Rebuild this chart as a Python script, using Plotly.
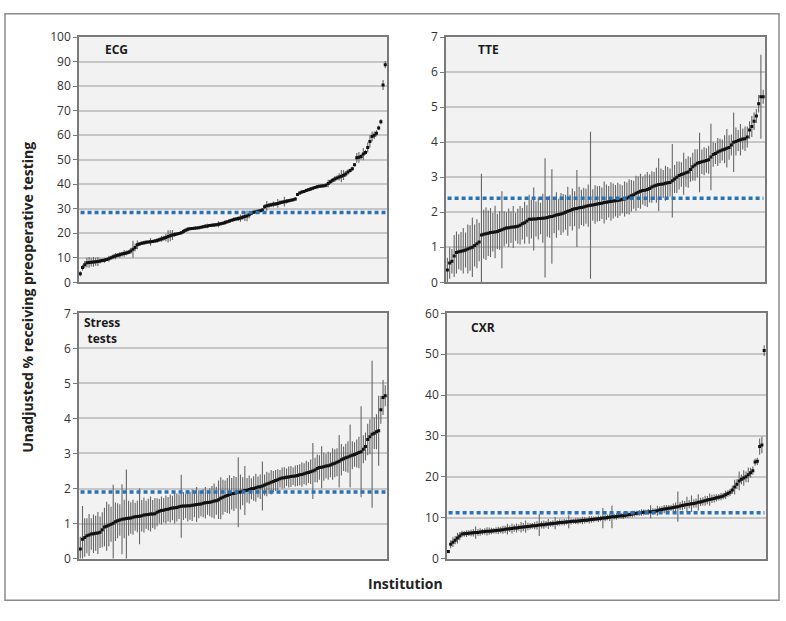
import plotly.graph_objects as go

W, H = 786, 621

# ---------------- data ----------------
ecg_vals = [3.5, 6.0, 7.2, 8.0, 8.1, 8.2, 8.3, 8.4, 8.5, 8.7,
            8.9, 9.0, 9.3, 9.6, 10.0, 10.4, 10.7, 11.0, 11.2, 11.5,
            11.8, 12.0, 12.3, 12.8, 13.5, 14.2, 15.3, 15.6, 15.9, 16.1,
            16.3, 16.4, 16.5, 16.7, 16.9, 17.1, 17.4, 17.7, 18.0, 18.3,
            18.7, 19.0, 19.3, 19.5, 19.7, 19.9, 20.2, 20.7, 21.2, 21.6,
            21.9, 22.0, 22.1, 22.2, 22.3, 22.5, 22.7, 22.9, 23.0, 23.2,
            23.3, 23.4, 23.5, 23.7, 23.9, 24.1, 24.4, 24.7, 25.0, 25.3,
            25.6, 25.8, 26.0, 26.2, 26.5, 26.8, 27.1, 27.6, 28.2, 28.6,
            28.8, 29.0, 29.2, 29.5, 30.8, 31.2, 31.4, 31.6, 31.8, 32.0,
            32.2, 32.5, 32.7, 32.9, 33.1, 33.3, 33.5, 33.7, 34.0, 35.8,
            36.4, 36.8, 37.1, 37.5, 37.8, 38.1, 38.4, 38.7, 39.0, 39.2,
            39.3, 39.4, 39.6, 40.3, 41.0, 41.6, 42.1, 42.6, 43.0, 43.3,
            43.7, 44.2, 45.0, 45.6, 46.3, 48.0, 50.8, 51.0, 51.3, 52.3,
            53.0, 55.0, 57.5, 59.5, 60.0, 60.8, 63.0, 65.5, 80.5, 88.8]
ecg_err = [1.0, 1.2, 1.5, 2.0, 2.2, 1.8, 2.0, 1.6, 1.8, 1.0,
           0.8, 1.0, 0.7, 1.2, 0.8, 1.0, 1.3, 0.9, 1.2, 1.0,
           1.4, 1.0, 0.9, 1.2, 3.5, 1.5, 1.8, 0.8, 0.7, 0.9,
           0.8, 0.6, 1.6, 0.7, 0.8, 1.0, 0.9, 1.2, 1.0, 1.5,
           2.5, 2.2, 2.0, 1.0, 0.7, 0.6, 0.7, 1.0, 0.8, 0.9,
           0.6, 0.5, 0.6, 0.5, 0.6, 0.5, 0.6, 0.8, 0.9, 0.6,
           0.7, 0.8, 0.6, 1.2, 0.7, 0.6, 1.0, 0.7, 0.8, 0.6,
           0.9, 0.7, 1.0, 1.5, 1.0, 1.8, 2.2, 1.5, 0.8, 0.7,
           0.6, 0.7, 0.6, 0.8, 0.9, 2.0, 1.0, 0.9, 1.2, 0.8,
           1.8, 1.0, 0.8, 2.0, 0.9, 0.7, 0.6, 0.6, 0.7, 0.6,
           0.6, 0.7, 0.6, 0.7, 0.6, 0.8, 0.7, 0.6, 0.7, 0.6,
           0.6, 0.7, 0.8, 1.5, 0.9, 1.0, 1.2, 1.0, 1.5, 2.5,
           2.0, 1.2, 1.0, 0.8, 0.8, 0.7, 2.0, 2.2, 1.2, 2.5,
           1.0, 2.0, 2.5, 2.0, 1.5, 1.2, 1.0, 1.0, 2.0, 1.5]

tte_vals = [0.35, 0.55, 0.6, 0.75, 0.85, 0.87, 0.89, 0.9, 0.92, 0.95,
            0.98, 1.0, 1.05, 1.1, 1.15, 1.35, 1.37, 1.39, 1.4, 1.42,
            1.43, 1.44, 1.45, 1.48, 1.5, 1.53, 1.55, 1.56, 1.57, 1.58,
            1.59, 1.6, 1.63, 1.67, 1.7, 1.75, 1.8, 1.8, 1.81, 1.81,
            1.82, 1.82, 1.83, 1.84, 1.85, 1.87, 1.88, 1.9, 1.92, 1.94,
            1.95, 1.97, 2.0, 2.03, 2.05, 2.08, 2.1, 2.11, 2.13, 2.14,
            2.15, 2.17, 2.19, 2.2, 2.21, 2.22, 2.24, 2.25, 2.26, 2.28,
            2.29, 2.3, 2.31, 2.32, 2.33, 2.34, 2.35, 2.37, 2.38, 2.4,
            2.44, 2.47, 2.5, 2.54, 2.57, 2.6, 2.62, 2.63, 2.65, 2.68,
            2.72, 2.75, 2.77, 2.79, 2.8, 2.81, 2.83, 2.84, 2.85, 2.9,
            2.95, 3.0, 3.05, 3.08, 3.1, 3.13, 3.15, 3.22, 3.3, 3.35,
            3.4, 3.42, 3.44, 3.46, 3.48, 3.5, 3.58, 3.65, 3.68, 3.72,
            3.75, 3.78, 3.8, 3.83, 3.85, 3.92, 4.0, 4.02, 4.05, 4.07,
            4.09, 4.1, 4.15, 4.35, 4.45, 4.6, 4.75, 5.1, 5.3, 5.3]
tte_err = [0.35, 0.45, 0.35, 0.6, 0.6, 0.5, 0.55, 0.65, 0.5, 0.7,
           0.65, 0.85, 0.6, 0.7, 0.55, 1.75, 0.7, 0.75, 0.65, 0.7,
           0.55, 0.75, 0.5, 0.55, 1.1, 0.5, 0.45, 0.55, 0.45, 0.6,
           0.4, 0.5, 0.55, 0.45, 0.6, 0.45, 0.7, 0.55, 0.9, 0.5,
           0.6, 0.45, 0.7, 1.7, 0.55, 0.6, 1.35, 0.5, 0.65, 0.45,
           0.6, 0.55, 0.5, 0.7, 0.45, 0.6, 0.5, 1.1, 0.6, 0.5,
           0.55, 0.5, 0.6, 2.1, 0.45, 0.55, 0.5, 0.5, 0.45, 0.6,
           0.5, 0.45, 0.55, 0.5, 0.45, 0.5, 0.45, 0.4, 0.5, 0.45,
           0.5, 0.45, 0.4, 0.5, 0.45, 0.5, 0.4, 0.45, 0.5, 0.4,
           0.45, 0.4, 0.5, 0.75, 0.45, 0.4, 0.5, 0.45, 0.4, 1.05,
           0.4, 0.45, 0.4, 0.35, 0.6, 0.4, 0.45, 0.35, 0.4, 0.45,
           0.4, 0.85, 0.35, 0.4, 0.35, 0.4, 0.95, 0.35, 0.3, 0.4,
           0.35, 0.3, 0.4, 0.55, 0.35, 0.3, 0.85, 0.4, 0.3, 0.45,
           0.3, 0.35, 0.3, 0.25, 0.3, 0.25, 0.2, 0.25, 1.2, 0.2]

stress_vals = [0.27, 0.55, 0.6, 0.65, 0.67, 0.7, 0.71, 0.72, 0.73, 0.75,
               0.82, 0.9, 0.92, 0.95, 0.98, 1.01, 1.05, 1.08, 1.1, 1.12,
               1.13, 1.14, 1.15, 1.16, 1.18, 1.19, 1.2, 1.21, 1.22, 1.24,
               1.25, 1.26, 1.27, 1.27, 1.28, 1.32, 1.35, 1.37, 1.38, 1.4,
               1.41, 1.43, 1.44, 1.45, 1.46, 1.48, 1.49, 1.5, 1.5, 1.51,
               1.51, 1.52, 1.53, 1.54, 1.55, 1.56, 1.58, 1.59, 1.6, 1.61,
               1.62, 1.64, 1.65, 1.68, 1.72, 1.75, 1.78, 1.8, 1.83, 1.85,
               1.86, 1.88, 1.89, 1.9, 1.92, 1.94, 1.95, 1.97, 1.99, 2.0,
               2.02, 2.04, 2.05, 2.07, 2.1, 2.13, 2.15, 2.18, 2.2, 2.23,
               2.25, 2.28, 2.3, 2.31, 2.32, 2.33, 2.34, 2.35, 2.36, 2.37,
               2.39, 2.4, 2.42, 2.44, 2.46, 2.48, 2.5, 2.53, 2.57, 2.6,
               2.61, 2.62, 2.64, 2.65, 2.67, 2.7, 2.72, 2.75, 2.78, 2.82,
               2.85, 2.88, 2.9, 2.93, 2.95, 2.97, 3.0, 3.03, 3.05, 3.12,
               3.2, 3.4, 3.48, 3.55, 3.58, 3.62, 3.65, 4.25, 4.6, 4.65]
stress_err = [0.35, 0.95, 0.55, 0.5, 0.6, 0.45, 0.55, 0.5, 0.6, 0.45,
              0.5, 0.55, 0.7, 0.6, 0.5, 1.1, 0.55, 0.5, 0.45, 1.0,
              0.55, 1.4, 0.5, 0.45, 0.5, 0.4, 0.45, 0.8, 0.45, 0.5,
              0.4, 0.45, 0.5, 0.4, 0.45, 0.4, 0.35, 0.4, 0.35, 0.4,
              0.35, 0.4, 0.35, 0.45, 0.4, 0.35, 0.9, 0.4, 0.35, 0.45,
              0.4, 0.45, 0.35, 0.5, 0.4, 0.35, 0.4, 0.45, 0.35, 0.4,
              0.45, 0.5, 0.4, 0.55, 0.6, 0.5, 0.45, 0.5, 0.55, 0.45,
              0.5, 0.45, 1.0, 0.5, 0.4, 0.7, 0.35, 0.4, 0.3, 0.35,
              0.4, 0.3, 0.35, 0.7, 0.3, 0.35, 0.3, 0.35, 0.3, 0.3,
              0.3, 0.25, 0.3, 0.3, 0.25, 0.3, 0.3, 0.25, 0.3, 0.3,
              0.3, 0.35, 0.3, 0.35, 0.3, 0.35, 0.8, 0.35, 0.4, 0.35,
              0.6, 0.4, 0.35, 0.4, 0.35, 0.45, 0.4, 0.4, 0.75, 0.45,
              0.35, 0.4, 0.45, 0.9, 0.4, 0.35, 0.4, 0.45, 1.3, 0.4,
              0.4, 0.45, 0.5, 2.1, 0.45, 0.5, 1.0, 0.4, 0.5, 0.3]

cxr_vals = [1.7, 3.5, 4.0, 4.5, 5.0, 5.5, 6.0, 6.05, 6.1, 6.2,
            6.25, 6.3, 6.35, 6.4, 6.5, 6.55, 6.6, 6.65, 6.7, 6.75,
            6.8, 6.85, 6.9, 7.0, 7.05, 7.15, 7.2, 7.3, 7.35, 7.45,
            7.5, 7.6, 7.65, 7.7, 7.8, 7.85, 7.9, 8.0, 8.05, 8.1,
            8.2, 8.25, 8.3, 8.4, 8.45, 8.5, 8.55, 8.65, 8.7, 8.8,
            8.85, 8.9, 8.95, 9.0, 9.05, 9.1, 9.15, 9.2, 9.25, 9.3,
            9.35, 9.4, 9.5, 9.55, 9.6, 9.7, 9.75, 9.8, 9.9, 9.95,
            10.05, 10.1, 10.2, 10.25, 10.3, 10.4, 10.45, 10.5, 10.6, 10.7,
            10.8, 10.9, 11.0, 11.1, 11.2, 11.25, 11.3, 11.35, 11.4, 11.45,
            11.5, 11.6, 11.7, 11.85, 12.0, 12.1, 12.2, 12.3, 12.4, 12.5,
            12.6, 12.7, 12.85, 13.0, 13.1, 13.2, 13.3, 13.4, 13.5, 13.6,
            13.75, 13.85, 14.0, 14.15, 14.3, 14.45, 14.6, 14.7, 14.85, 15.0,
            15.15, 15.3, 15.6, 15.9, 16.2, 16.8, 17.5, 18.2, 19.0, 19.4,
            19.7, 20.0, 20.5, 21.0, 21.5, 23.6, 23.8, 27.4, 27.8, 50.9]
cxr_err = [0.4, 1.0, 1.2, 1.0, 1.3, 1.0, 0.8, 0.7, 0.8, 0.7,
           0.8, 0.9, 1.5, 0.8, 0.9, 0.7, 0.8, 1.0, 0.9, 0.8,
           0.7, 0.8, 0.9, 0.8, 1.0, 0.9, 1.3, 0.8, 1.2, 0.9,
           1.1, 0.8, 1.3, 1.0, 1.5, 0.9, 0.8, 0.7, 0.9, 1.0,
           2.7, 0.9, 1.0, 0.8, 1.2, 0.7, 0.8, 1.5, 0.7, 0.8,
           0.7, 0.8, 0.6, 1.6, 0.7, 0.6, 0.7, 0.8, 0.7, 0.9,
           0.8, 0.6, 0.9, 0.8, 0.7, 0.6, 0.8, 0.7, 2.5, 0.8,
           0.7, 0.9, 2.8, 0.7, 0.8, 0.6, 0.7, 0.8, 0.7, 0.8,
           0.7, 0.8, 0.7, 0.6, 0.7, 0.8, 0.7, 0.6, 0.7, 1.6,
           0.8, 0.7, 1.2, 0.9, 0.8, 1.0, 0.9, 0.8, 0.7, 1.0,
           1.1, 3.7, 1.0, 1.2, 1.0, 1.9, 1.0, 2.0, 1.0, 1.1,
           2.0, 1.0, 1.0, 1.2, 1.0, 1.5, 1.0, 1.0, 0.9, 0.8,
           0.9, 0.8, 1.0, 0.8, 0.9, 1.0, 1.8, 1.2, 2.3, 1.2,
           1.9, 1.3, 1.8, 1.2, 1.0, 0.9, 0.9, 2.0, 2.0, 1.3]

panel_names = ["ECG", "TTE", "Stress<br>tests", "CXR"]
overall_means = [28.5, 2.4, 1.9, 11.2]
y_ranges = [[0, 100], [0, 7], [0, 7], [0, 60]]
y_dticks = [10, 1, 1, 10]
series = [(ecg_vals, ecg_err), (tte_vals, tte_err),
          (stress_vals, stress_err), (cxr_vals, cxr_err)]

# ---------------- layout helpers (pixel -> paper) ----------------
def px(x):
    return x / W

def py(y):
    return 1 - y / H

# plot-area boxes: (left, right, top, bottom) in pixels
boxes = [(79, 387, 29, 281), (446, 765, 29, 281),
         (79, 387, 313, 565), (447, 766, 313, 565)]
label_pos = [(103, 42), (476, 42), (82, 331), (469, 327)]

FONT = "Open Sans"
fig = go.Figure()
layout = dict(
    width=W, height=H,
    margin=dict(l=0, r=0, t=0, b=0),
    paper_bgcolor="white",
    plot_bgcolor="#f2f2f2",
    showlegend=False,
    font=dict(family=FONT, size=12, color="#333333"),
)
shapes = []
annotations = []

for k, ((vals, errs), box) in enumerate(zip(series, boxes)):
    n = k + 1
    xa = "x" if n == 1 else f"x{n}"
    ya = "y" if n == 1 else f"y{n}"
    xs = list(range(1, len(vals) + 1))
    fig.add_trace(go.Scatter(
        x=xs, y=vals, xaxis=xa, yaxis=ya, mode="markers",
        marker=dict(symbol="square", size=3, color="#111111"),
        error_y=dict(type="data", array=errs, visible=True,
                     color="#666666", thickness=1.1, width=0),
        hoverinfo="skip",
    ))
    l, r, t, b = box
    layout["xaxis" if n == 1 else f"xaxis{n}"] = dict(
        domain=[px(l), px(r)], anchor=ya, range=[0.4, len(vals) + 0.8],
        showticklabels=False, ticks="", showgrid=False, zeroline=False,
        showline=True, linecolor="#7a7a7a", linewidth=1.5, mirror=True,
    )
    layout["yaxis" if n == 1 else f"yaxis{n}"] = dict(
        domain=[py(b), py(t)], anchor=xa, range=y_ranges[k],
        dtick=y_dticks[k], tick0=0,
        showgrid=True, gridcolor="#c6c6c6", gridwidth=1.5, zeroline=False,
        showline=True, linecolor="#7a7a7a", linewidth=1.5, mirror=True,
        ticks="outside", ticklen=4, tickcolor="#7a7a7a",
        tickfont=dict(family=FONT, size=12, color="#333333"),
    )
    shapes.append(dict(
        type="line", xref=f"{xa} domain", yref=ya,
        x0=0.005, x1=0.995, y0=overall_means[k], y1=overall_means[k],
        line=dict(color="#2a72b5", width=3.5, dash="4px,3px"),
    ))
    lx, ly = label_pos[k]
    annotations.append(dict(
        text=f"<b>{panel_names[k]}</b>", x=px(lx), y=py(ly),
        xref="paper", yref="paper", xanchor="left", yanchor="middle",
        align="center" if k == 2 else "left", showarrow=False,
        font=dict(family=FONT, size=12, color="#1a1a1a"),
    ))

# outer frame
shapes.append(dict(type="rect", xref="paper", yref="paper",
                   x0=px(5), x1=px(779), y0=py(608), y1=py(5),
                   line=dict(color="#8a8a8a", width=1.5), layer="below"))

annotations.append(dict(
    text="<b>Unadjusted % receiving preoperative testing</b>",
    x=px(28), y=py(297), xref="paper", yref="paper", textangle=-90,
    showarrow=False, xanchor="center", yanchor="middle",
    font=dict(family=FONT, size=14, color="#222222"),
))
annotations.append(dict(
    text="<b>Institution</b>", x=px(405), y=py(591),
    xref="paper", yref="paper", showarrow=False,
    xanchor="center", yanchor="middle",
    font=dict(family=FONT, size=14, color="#222222"),
))

layout["shapes"] = shapes
layout["annotations"] = annotations
fig.update_layout(**layout)
fig.write_html(
    "out.html",
    config={"displayModeBar": False},
    post_script="document.body.style.margin='0';document.body.style.overflow='hidden';",
)
